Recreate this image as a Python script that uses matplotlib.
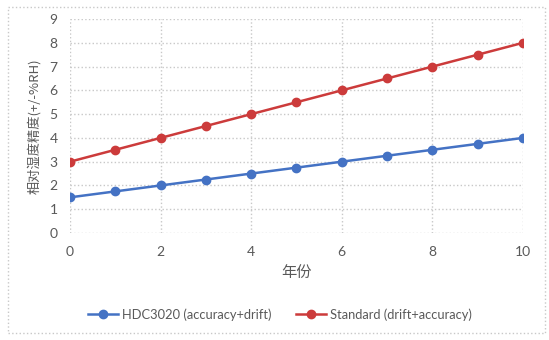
import matplotlib
matplotlib.use("Agg")
import matplotlib.pyplot as plt
from matplotlib.patches import Rectangle

plt.rcParams['font.family'] = ['Lato', 'Noto Sans CJK SC', 'DejaVu Sans']

years = [0, 1, 2, 3, 4, 5, 6, 7, 8, 9, 10]
hdc3020 = [1.5, 1.75, 2.0, 2.25, 2.5, 2.75, 3.0, 3.25, 3.5, 3.75, 4.0]
standard = [3.0, 3.5, 4.0, 4.5, 5.0, 5.5, 6.0, 6.5, 7.0, 7.5, 8.0]
labels = ["HDC3020 (accuracy+drift)", "Standard (drift+accuracy)"]

blue = "#4472C4"
red = "#CC3B3B"
txt = "#595959"

fig = plt.figure(figsize=(5.49, 3.40), dpi=100)
ax = fig.add_axes([0.1275, 0.3147, 0.8251, 0.6293])

ax.plot(years, hdc3020, color=blue, lw=1.8, marker="o", ms=6, label=labels[0])
ax.plot(years, standard, color=red, lw=1.8, marker="o", ms=6, label=labels[1])

ax.set_xlim(0, 10)
ax.set_ylim(0, 9)
ax.set_xticks(range(0, 11, 2))
ax.set_yticks(range(0, 10))
ax.grid(True, color="#C8C8C8", ls=":", lw=1)
for s in ax.spines.values():
    s.set_visible(False)
ax.tick_params(length=0, colors=txt, labelsize=10, pad=9)

ax.set_xlabel("年份", color=txt, fontsize=11, family=['Noto Sans CJK SC'], labelpad=5)
ax.set_ylabel("相对湿度精度(+/-%RH)", color=txt, fontsize=9.5,
              family=['Noto Sans CJK SC', 'DejaVu Sans'], labelpad=6)

fig.legend(loc="center", bbox_to_anchor=(0.51, 0.075), ncol=2, frameon=False,
           fontsize=9.3, labelcolor=txt, handlelength=2.3, handletextpad=0.3,
           columnspacing=1.9)

fig.patches.append(Rectangle((8 / 549, 7 / 340), 537 / 549, 326 / 340,
                             transform=fig.transFigure, fill=False,
                             edgecolor="#C8C8C8", ls=":", lw=1))

plt.savefig("out.png", dpi=100)
